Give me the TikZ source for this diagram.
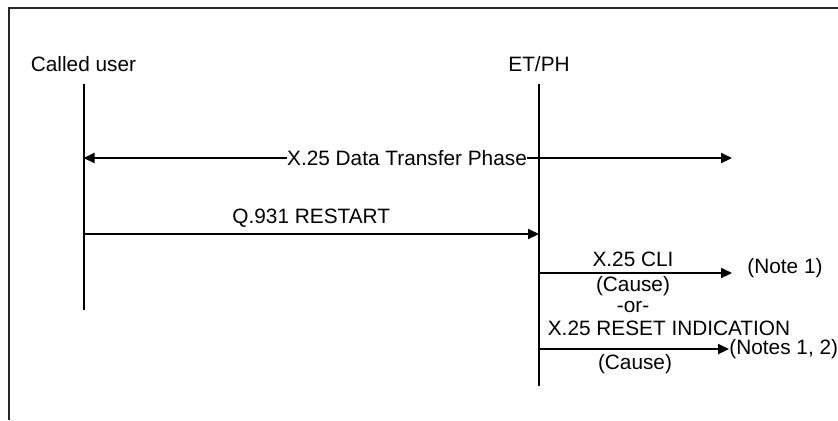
\documentclass[tikz,border=0pt]{standalone}
\usepackage{fontspec}
\setmainfont{Liberation Sans}
\usetikzlibrary{arrows.meta}

\begin{document}
\begin{tikzpicture}[x=0.5pt,y=-0.5pt,
    life/.style={line width=1pt},
    msg/.style={line width=1pt,-{Triangle[length=5.5pt,width=5pt]}},
    lbl/.style={font=\fontsize{10.4}{12}\selectfont,inner sep=1pt}]
    \useasboundingbox (0,0) rectangle (838,420);
    \draw[line width=1pt,black!85] (8.5,420) -- (8.5,7.5) -- (838,7.5);
    \node[lbl] (user) at (83.5,64){Called user};
    \node[lbl] (etph) at (539,64){ET/PH};
    \coordinate (userTop) at (83.5,84);
    \coordinate (userBot) at (83.5,310);
    \coordinate (etphTop) at (539,84);
    \coordinate (etphBot) at (539,386);
    \draw[life] (userTop)--(userBot);
    \draw[life] (etphTop)--(etphBot);
    % data transfer phase
    \node[lbl,inner sep=0pt,fill=white] (phase) at (407,158){X.25 Data Transfer Phase};
    \coordinate (phaseL) at (83.5,158);
    \coordinate (phaseR) at (732,158);
    \draw[msg] (phase.west)--(phaseL);
    \draw[msg] (phase.east)--(phaseR);
    % restart
    \coordinate (rstA) at (83.5,234);
    \coordinate (rstB) at (539,234);
    \draw[msg] (rstA)-- node[lbl,above=2pt]{Q.931 RESTART} (rstB);
    % clear indication
    \coordinate (cliA) at (539,273);
    \coordinate (cliB) at (732,273);
    \draw[msg] (cliA)--(cliB);
    \node[lbl] (cli) at (633,259){X.25 CLI};
    \node[lbl] (cliCause) at (633,286){(Cause)};
    \node[lbl,anchor=west] (note1) at (745,268){(Note 1)};
    \node[lbl] (or) at (633,307){-or-};
    % reset indication
    \node[lbl] (rst) at (669,328){X.25 RESET INDICATION};
    \coordinate (resA) at (539,349);
    \coordinate (resB) at (729,349);
    \draw[msg] (resA)--(resB);
    \node[lbl] (resCause) at (635,364){(Cause)};
    \node[lbl,anchor=west,inner sep=0pt] (note12) at (resB){(Notes 1, 2)};
\end{tikzpicture}
\end{document}
